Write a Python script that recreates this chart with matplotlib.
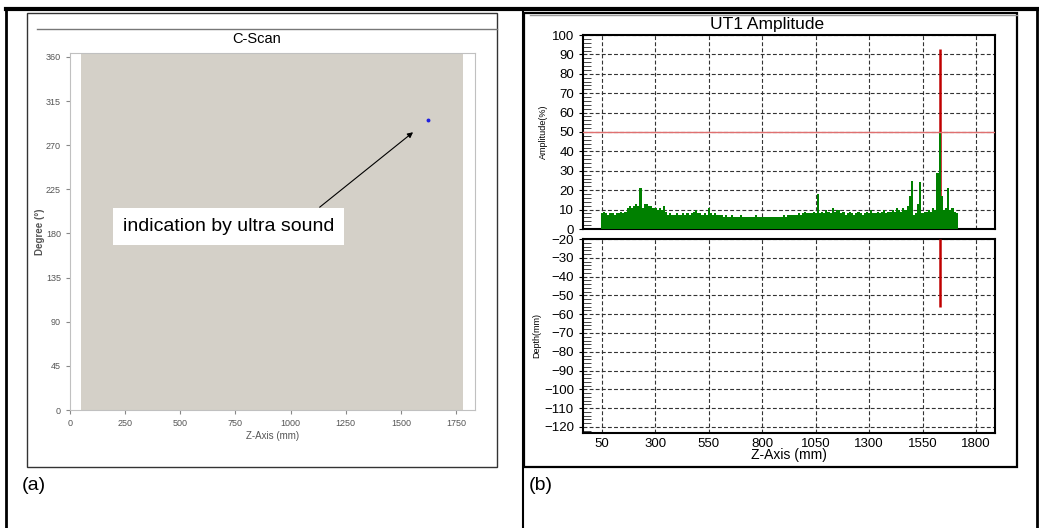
import numpy as np
import matplotlib
matplotlib.use("Agg")
import matplotlib.pyplot as plt
from matplotlib.lines import Line2D
from matplotlib.patches import Rectangle
from matplotlib.ticker import MultipleLocator

plt.rcParams['font.family'] = ['Liberation Sans', 'DejaVu Sans']

# ---- data ----
cscan_ticks_x = [0, 250, 500, 750, 1000, 1250, 1500, 1750]
cscan_ticks_y = [0, 45, 90, 135, 180, 225, 270, 315, 360]
scan_start, scan_end = 50, 1783          # scanned region (mm)
indication_z, indication_deg = 1625, 296 # C-scan indication

ut_ticks_x = [50, 300, 550, 800, 1050, 1300, 1550, 1800]
z_pos = np.arange(50, 1711, 10)          # 10 mm bins
amplitude = [
    8, 9, 8, 7, 8, 8, 7, 8, 8, 9,
    8, 9, 11, 12, 11, 12, 13, 12, 21, 11,
    13, 13, 12, 12, 11, 11, 10, 11, 10, 12,
    9, 7, 8, 7, 7, 8, 7, 7, 8, 7,
    8, 7, 8, 9, 10, 8, 8, 7, 8, 7,
    11, 8, 7, 8, 7, 7, 7, 6, 7, 6,
    6, 7, 6, 6, 6, 7, 6, 6, 6, 6,
    6, 6, 7, 6, 6, 6, 6, 6, 6, 6,
    6, 6, 6, 6, 6, 7, 6, 7, 7, 7,
    7, 7, 8, 7, 8, 9, 8, 8, 8, 9,
    8, 18, 8, 9, 8, 10, 9, 8, 11, 9,
    10, 10, 8, 9, 7, 8, 9, 8, 7, 8,
    9, 8, 7, 8, 9, 8, 10, 8, 8, 9,
    8, 9, 10, 8, 9, 9, 10, 9, 11, 10,
    9, 11, 10, 12, 17, 25, 7, 8, 13, 24,
    8, 9, 9, 10, 9, 11, 10, 29, 50, 17,
    10, 11, 21, 10, 11, 9, 8]
threshold = 50
flaw_z = 1632
flaw_amp = 93
flaw_depth = -56

W, H = 1039, 528
fig = plt.figure(figsize=(W / 100, H / 100), dpi=100)


def fx(x):
    return x / W


def fy(y):
    return 1 - y / H


def fig_line(x0, y0, x1, y1, **kw):
    fig.add_artist(Line2D([fx(x0), fx(x1)], [fy(y0), fy(y1)],
                          transform=fig.transFigure, **kw))


# outer table frame
fig_line(6, 9, 1038, 9, color='black', lw=3)
fig_line(6, 9, 6, 528, color='black', lw=2)
fig_line(523, 9, 523, 528, color='black', lw=1.5)
fig_line(1037, 9, 1037, 528, color='black', lw=2)

# panel boxes
fig.add_artist(Rectangle((fx(27), fy(467)), fx(470), 454 / H, transform=fig.transFigure,
                         fill=False, edgecolor='#333333', lw=1))
fig_line(37, 29, 497, 29, color='#777777', lw=1)
fig.add_artist(Rectangle((fx(524), fy(467)), fx(493), 454 / H, transform=fig.transFigure,
                         fill=False, edgecolor='black', lw=1.6))
fig_line(530, 15, 1017, 15, color='#999999', lw=1)

# ---- (a) C-Scan ----
ax = fig.add_axes([fx(70), fy(410), fx(405), 357 / H])
ax.set_xlim(0, 1836)
ax.set_ylim(0, 364)
ax.add_patch(Rectangle((scan_start, 0), scan_end - scan_start, 364,
                       facecolor='#d4d0c8', edgecolor='none'))
ax.plot(indication_z, indication_deg, 'o', color='#2020e0', ms=1.8)
ax.set_xticks(cscan_ticks_x)
ax.set_yticks(cscan_ticks_y)
ax.tick_params(colors='#888888', labelcolor='#555555', labelsize=6.5, length=3)
for s in ax.spines.values():
    s.set_color('#c0c0c0')
ax.set_xlabel('Z-Axis (mm)', fontsize=7, color='#555555', labelpad=2)
ax.set_ylabel('Degree (°)', fontsize=7, color='#555555', fontweight='bold')
ax.yaxis.set_label_coords(-0.062, 0.5)
fig.text(fx(257), fy(39), 'C-Scan', ha='center', va='center', fontsize=10.5)
ax.text(720, 187, 'indication by ultra sound', ha='center', va='center', fontsize=14,
        bbox=dict(boxstyle='square,pad=0.5', facecolor='white', edgecolor='none'))
ax.annotate('', xy=(1565, 285), xytext=(1122, 205),
            arrowprops=dict(arrowstyle='-|>', color='black', lw=0.8, mutation_scale=8))

# ---- (b) UT1 amplitude / depth ----
ax1 = fig.add_axes([fx(583), fy(229), fx(412), 194 / H])
ax2 = fig.add_axes([fx(583), fy(433), fx(412), 194 / H])
for a in (ax1, ax2):
    a.set_xlim(-39, 1889)
    a.set_xticks(ut_ticks_x)
    a.grid(True, which='major', color='#333333', linestyle=(0, (3.5, 2)), lw=0.8)
    a.yaxis.set_minor_locator(MultipleLocator(2))
    a.tick_params(axis='y', which='major', direction='out', length=3, labelsize=9.5)
    a.tick_params(axis='y', which='minor', direction='in', length=6, width=0.5)
    a.tick_params(axis='x', length=0, labelsize=9.5)
    for s in a.spines.values():
        s.set_linewidth(1.5)
    a.set_axisbelow(True)

ax1.vlines(flaw_z, 0, flaw_amp, color='#c00000', lw=1.8, zorder=2)
ax1.bar(z_pos, amplitude, width=10, color='#008000', edgecolor='none', zorder=3)
ax1.axhline(threshold, color='#e07070', lw=1, zorder=4)
ax1.set_ylim(0, 100)
ax1.set_yticks(np.arange(0, 101, 10))
ax1.tick_params(axis='x', labelbottom=False)
ax1.set_ylabel('Amplitude(%)', fontsize=6.5, labelpad=3)

ax2.vlines(flaw_z, -20, flaw_depth, color='#c00000', lw=1.8, zorder=3)
ax2.set_ylim(-123.2, -20)
ax2.set_yticks(np.arange(-120, -19, 10))
ax2.set_ylabel('Depth(mm)', fontsize=6.5, labelpad=2)
ax2.set_xlabel('Z-Axis (mm)', fontsize=10, labelpad=-1)
fig.text(fx(767), fy(24), 'UT1 Amplitude', ha='center', va='center', fontsize=12.5)

# panel labels
fig.text(fx(22), fy(486), '(a)', ha='left', va='center', fontsize=14)
fig.text(fx(529), fy(485), '(b)', ha='left', va='center', fontsize=14)

fig.savefig('out.png', dpi=100)
